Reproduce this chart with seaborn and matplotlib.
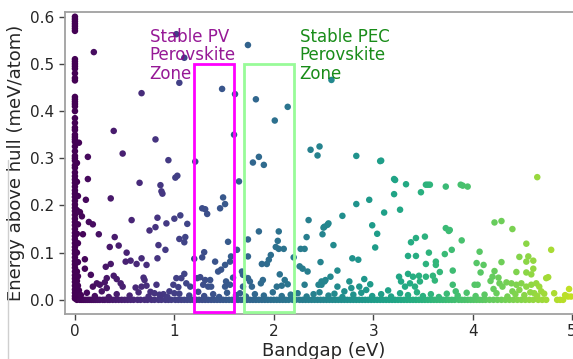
import numpy as np
import pandas as pd
import matplotlib
matplotlib.use("Agg")
import matplotlib.pyplot as plt
from matplotlib.patches import Rectangle
from matplotlib.lines import Line2D
import seaborn as sns

# ---------------- data ----------------
# points stacked on the x = 0 axis (bandgap 0 eV)
zero_gap_y = [0.600, 0.595, 0.590, 0.585, 0.580, 0.575, 0.570, 0.510, 0.505, 0.500,
              0.495, 0.490, 0.480, 0.470, 0.465, 0.430, 0.425, 0.420, 0.415, 0.410,
              0.400, 0.385, 0.375, 0.365, 0.360, 0.350, 0.345, 0.340, 0.335, 0.325,
              0.315, 0.305, 0.300, 0.295, 0.285, 0.280, 0.270, 0.262, 0.255, 0.248,
              0.240, 0.232, 0.225, 0.218, 0.210, 0.202, 0.195, 0.188, 0.180, 0.172,
              0.165, 0.158, 0.150, 0.142, 0.135, 0.128, 0.120, 0.112, 0.105, 0.098,
              0.090, 0.082, 0.075, 0.068, 0.060, 0.052, 0.045, 0.038, 0.030, 0.022,
              0.015, 0.008, 0.003]
near_zero_x = [0.02, 0.02, 0.03, 0.02, 0.03, 0.02, 0.03, 0.02, 0.03, 0.02, 0.03, 0.02, 0.03, 0.04, 0.03]
near_zero_y = [0.29, 0.25, 0.22, 0.19, 0.16, 0.14, 0.12, 0.10, 0.08, 0.06, 0.05, 0.04, 0.03, 0.02, 0.01]

# scattered compounds
scatter_x = [0.19, 0.04, 0.13, 0.39, 0.48, 0.67, 0.81, 1.02, 1.10, 1.05, 0.94, 1.48, 1.61, 1.60, 1.74,
             1.82, 2.14, 2.01, 2.37, 2.46, 2.44, 4.65, 3.21, 3.08, 2.58,
             1.03, 1.01, 0.13, 0.65, 0.86, 0.87, 0.88, 0.36, 0.11, 0.05, 0.07, 0.14, 0.18, 0.57, 0.83,
             0.92, 1.00, 1.06, 1.13, 0.75, 0.81, 0.08, 0.24, 0.40, 0.44, 0.35, 1.05, 1.11, 1.10, 0.84,
             0.91, 0.52, 0.83, 1.20, 0.10, 0.56, 0.51, 0.62, 0.67, 0.72, 0.36, 0.31, 0.10, 0.16, 0.39,
             0.42, 0.46, 0.48, 0.22, 0.25, 0.18, 0.32, 0.30, 0.32, 0.69, 0.70, 0.67, 0.61, 0.72, 0.82,
             0.76, 0.80, 1.02, 1.07, 1.10, 0.99, 1.04, 1.12, 1.16, 0.89, 0.95, 1.00, 1.23, 1.21,
             1.79, 1.85, 1.90, 1.65, 1.28, 1.31, 1.33, 1.49, 1.51, 1.46, 2.35, 2.54, 2.51, 1.85, 2.05,
             1.74, 2.33, 2.04, 2.02, 2.05, 2.10, 2.27, 2.31, 1.54, 1.63, 1.30, 1.28, 1.41, 1.57, 1.56,
             1.51, 1.47, 1.44, 1.74, 1.97, 1.95, 1.93, 1.88, 2.20, 2.26, 2.29, 1.68, 1.69, 2.06, 2.11,
             2.14, 2.34, 1.89, 1.87, 1.26, 1.31, 1.36, 1.29, 1.34, 1.37, 1.52, 1.51, 1.56, 1.59, 1.74,
             1.76, 1.78, 1.69, 2.08, 2.03, 2.31, 2.45, 2.48, 2.52,
             2.83, 3.07, 3.22, 3.33, 3.53, 3.55, 3.57, 3.73, 3.21, 3.48, 2.96, 2.83, 3.11, 3.27, 2.69,
             2.55, 2.50, 2.99, 2.49, 3.04, 3.73, 3.76, 2.60, 3.38, 3.43, 3.52, 3.02, 3.56, 3.72, 2.79,
             2.85, 3.35, 3.43, 2.47, 3.53, 3.63, 3.63, 2.64, 2.57, 2.51, 2.48, 2.76, 2.91, 2.97, 3.26,
             3.35, 3.40, 3.46, 3.28, 3.37, 3.42, 3.32, 3.47, 3.53, 3.60, 3.62, 2.64, 2.71, 2.78, 2.86,
             2.93, 3.15,
             3.88, 3.90, 3.95, 4.22, 4.29, 4.40, 3.77, 3.89, 4.54, 4.79, 3.79, 4.07, 4.47, 4.56, 4.61,
             4.54, 4.04, 4.11, 4.29, 4.61, 4.22, 4.44, 3.80, 3.67, 4.08, 4.20, 4.26, 4.18, 4.54, 4.59,
             4.76, 4.74, 4.27, 4.34, 4.39, 4.44, 4.49, 4.54, 4.59, 4.64, 4.67, 4.30, 4.40, 4.47, 4.69,
             4.62, 3.80, 4.02, 4.05, 3.83, 4.21, 4.82, 4.97, 4.96, 4.99]
scatter_y = [0.525, 0.333, 0.303, 0.358, 0.310, 0.438, 0.340, 0.563, 0.513, 0.460, 0.296, 0.447, 0.436, 0.350, 0.540,
             0.425, 0.409, 0.380, 0.318, 0.325, 0.306, 0.260, 0.256, 0.295, 0.466,
             0.263, 0.259, 0.256, 0.248, 0.243, 0.230, 0.225, 0.215, 0.212, 0.186, 0.177, 0.165, 0.160, 0.169, 0.174,
             0.162, 0.172, 0.179, 0.161, 0.147, 0.154, 0.139, 0.139, 0.133, 0.115, 0.112, 0.129, 0.133, 0.122, 0.116,
             0.106, 0.100, 0.088, 0.087, 0.086, 0.083, 0.081, 0.076, 0.088, 0.074, 0.076, 0.070, 0.066, 0.053, 0.051,
             0.044, 0.035, 0.028, 0.035, 0.032, 0.028, 0.046, 0.037, 0.025, 0.047, 0.042, 0.028, 0.026, 0.030, 0.032,
             0.017, 0.014, 0.046, 0.046, 0.055, 0.032, 0.027, 0.035, 0.028, 0.012, 0.018, 0.014, 0.046, 0.293,
             0.291, 0.303, 0.286, 0.251, 0.194, 0.192, 0.182, 0.217, 0.203, 0.194, 0.169, 0.159, 0.155, 0.145, 0.145,
             0.128, 0.133, 0.125, 0.112, 0.108, 0.108, 0.108, 0.108, 0.123, 0.106, 0.101, 0.090, 0.081, 0.092, 0.081,
             0.074, 0.064, 0.060, 0.092, 0.095, 0.085, 0.076, 0.076, 0.090, 0.071, 0.066, 0.060, 0.053, 0.054, 0.042,
             0.033, 0.060, 0.042, 0.035, 0.048, 0.042, 0.042, 0.032, 0.028, 0.028, 0.039, 0.028, 0.032, 0.047, 0.046,
             0.039, 0.028, 0.028, 0.030, 0.028, 0.032, 0.032, 0.039, 0.042,
             0.305, 0.294, 0.254, 0.245, 0.244, 0.244, 0.244, 0.240, 0.224, 0.228, 0.212, 0.203, 0.185, 0.191, 0.178,
             0.162, 0.153, 0.158, 0.139, 0.140, 0.152, 0.146, 0.116, 0.122, 0.131, 0.134, 0.111, 0.100, 0.097, 0.088,
             0.085, 0.093, 0.093, 0.080, 0.076, 0.081, 0.074, 0.062, 0.049, 0.039, 0.032, 0.039, 0.044, 0.033, 0.049,
             0.055, 0.049, 0.051, 0.039, 0.035, 0.028, 0.028, 0.039, 0.049, 0.051, 0.041, 0.028, 0.018, 0.025, 0.028,
             0.021, 0.020,
             0.244, 0.242, 0.240, 0.164, 0.167, 0.150, 0.148, 0.126, 0.119, 0.106, 0.106, 0.102, 0.091, 0.092, 0.083,
             0.081, 0.078, 0.074, 0.080, 0.066, 0.061, 0.059, 0.062, 0.059, 0.058, 0.049, 0.047, 0.040, 0.058, 0.054,
             0.048, 0.046, 0.035, 0.037, 0.035, 0.032, 0.035, 0.028, 0.032, 0.035, 0.028, 0.028, 0.018, 0.021, 0.018,
             0.014, 0.032, 0.032, 0.032, 0.018, 0.023, 0.014, 0.023, 0.007, 0.007]

# the dense row of stable compounds (hull energy 0)
floor_x = [0.02, 0.05, 0.07, 0.09, 0.11, 0.13, 0.15, 0.17, 0.19, 0.21, 0.23, 0.25, 0.28, 0.30, 0.33,
           0.35, 0.38, 0.41, 0.44, 0.47, 0.50, 0.53, 0.56, 0.59, 0.63, 0.66, 0.70, 0.73, 0.77, 0.80,
           0.84, 0.87, 0.91, 0.94, 0.97, 1.01, 1.04, 1.07, 1.10, 1.13, 1.16, 1.19, 1.22, 1.25, 1.28,
           1.31, 1.34, 1.37, 1.40, 1.43, 1.46, 1.49, 1.52, 1.55, 1.58, 1.61, 1.64, 1.67, 1.70, 1.73,
           1.76, 1.79, 1.82, 1.85, 1.88, 1.91, 1.94, 1.97, 2.00, 2.03, 2.06, 2.09, 2.12, 2.15, 2.19,
           2.22, 2.26, 2.29, 2.32, 2.35, 2.38, 2.41, 2.44, 2.47, 2.50, 2.53, 2.56, 2.59, 2.62, 2.65,
           2.68, 2.71, 2.74, 2.77, 2.80, 2.83, 2.86, 2.89, 2.92, 2.95, 2.98, 3.01, 3.04, 3.07, 3.10,
           3.13, 3.16, 3.19, 3.22, 3.25, 3.28, 3.31, 3.34, 3.37, 3.40, 3.43, 3.46, 3.49, 3.52, 3.55,
           3.58, 3.61, 3.64, 3.67, 3.70, 3.73, 3.76, 3.79, 3.82, 3.86, 3.89, 3.92, 3.95, 3.98, 4.01,
           4.04, 4.07, 4.10, 4.13, 4.17, 4.21, 4.25, 4.29, 4.33, 4.37, 4.41, 4.45, 4.49, 4.53, 4.57,
           4.61, 4.66, 4.70, 4.74, 4.85, 4.88, 4.91]

# second layer just above the floor
low_x = [0.06, 0.12, 0.20, 0.27, 0.34, 0.42, 0.55, 0.64, 0.74, 0.85, 0.93, 1.05, 1.15, 1.24, 1.30,
         1.39, 1.45, 1.53, 1.62, 1.66, 1.72, 1.81, 1.90, 1.99, 2.08, 2.17, 2.24, 2.33, 2.40, 2.46,
         2.55, 2.61, 2.69, 2.80, 2.88, 2.99, 3.08, 3.18, 3.27, 3.35, 3.44, 3.50, 3.58, 3.66, 3.74,
         3.85, 3.94, 4.03, 4.12, 4.24, 4.35, 4.43, 4.52, 4.58, 4.65, 4.72, 4.93]
low_y = [0.010, 0.015, 0.008, 0.018, 0.006, 0.012, 0.009, 0.016, 0.007, 0.011, 0.006, 0.013, 0.009, 0.017, 0.008,
         0.012, 0.006, 0.015, 0.010, 0.014, 0.007, 0.012, 0.009, 0.016, 0.008, 0.011, 0.014, 0.007, 0.012, 0.016,
         0.009, 0.013, 0.006, 0.011, 0.015, 0.008, 0.012, 0.007, 0.014, 0.010, 0.016, 0.008, 0.012, 0.006, 0.013,
         0.009, 0.015, 0.008, 0.011, 0.014, 0.007, 0.012, 0.010, 0.016, 0.008, 0.013, 0.010]

# stability zones (bandgap range, eV) and labels
pv_zone = [1.2, 1.6]
pec_zone = [1.7, 2.2]
zone_ehull = [-0.025, 0.5]
pv_label = "Stable PV\nPerovskite\nZone"
pec_label = "Stable PEC\nPerovskite\nZone"

# ---------------- build table ----------------
bandgap = ([0.0] * len(zero_gap_y)) + near_zero_x + scatter_x + floor_x + low_x
ehull = zero_gap_y + near_zero_y + scatter_y + ([0.0] * len(floor_x)) + low_y
df = pd.DataFrame({"Bandgap (eV)": bandgap, "Energy above hull (meV/atom)": ehull})

# ---------------- plot ----------------
sns.set_style("ticks")
plt.rcParams["font.family"] = ["DejaVu Sans"]

fig = plt.figure(figsize=(5.73, 3.59), dpi=100)
ax = fig.add_axes([65 / 573, 45 / 359, 517 / 573, 302 / 359])

sns.scatterplot(data=df, x="Bandgap (eV)", y="Energy above hull (meV/atom)",
                hue="Bandgap (eV)", palette="viridis", hue_norm=(0, 5.5),
                s=22, linewidth=0, legend=False, ax=ax)

ax.add_patch(Rectangle((pv_zone[0], zone_ehull[0]), pv_zone[1] - pv_zone[0],
                       zone_ehull[1] - zone_ehull[0], fill=False,
                       edgecolor="#ff00ff", linewidth=2.0, zorder=5))
ax.add_patch(Rectangle((pec_zone[0], zone_ehull[0]), pec_zone[1] - pec_zone[0],
                       zone_ehull[1] - zone_ehull[0], fill=False,
                       edgecolor="#98fb98", linewidth=2.0, zorder=5))

ax.text(0.75, 0.577, pv_label, color="#8b008b", fontsize=12, va="top", ha="left",
        linespacing=1.05, alpha=0.9)
ax.text(2.26, 0.577, pec_label, color="green", fontsize=12, va="top", ha="left",
        linespacing=1.05, alpha=0.9)

ax.set_xlim(-0.1, 5.1)
ax.set_ylim(-0.03, 0.61)
ax.set_xticks([0, 1, 2, 3, 4, 5])
ax.set_yticks([0.0, 0.1, 0.2, 0.3, 0.4, 0.5, 0.6])
ax.set_yticklabels(["0.0", "0.1", "0.2", "0.3", "0.4", "0.5", "0.6"])
ax.tick_params(labelsize=11, length=4, width=1, color="#444444")
ax.set_xlabel("Bandgap (eV)", fontsize=13, labelpad=2)
ax.set_ylabel("Energy above hull (meV/atom)", fontsize=13, labelpad=4)
for side in ["left", "bottom", "top", "right"]:
    ax.spines[side].set_visible(True)
    ax.spines[side].set_color("#a0a0a0")
    ax.spines[side].set_linewidth(1.3)

fig.add_artist(Line2D([8 / 573, 8 / 573], [0, 199 / 359], color="#cfcfcf",
                      linewidth=1, transform=fig.transFigure))

fig.savefig("out.png", dpi=100)
